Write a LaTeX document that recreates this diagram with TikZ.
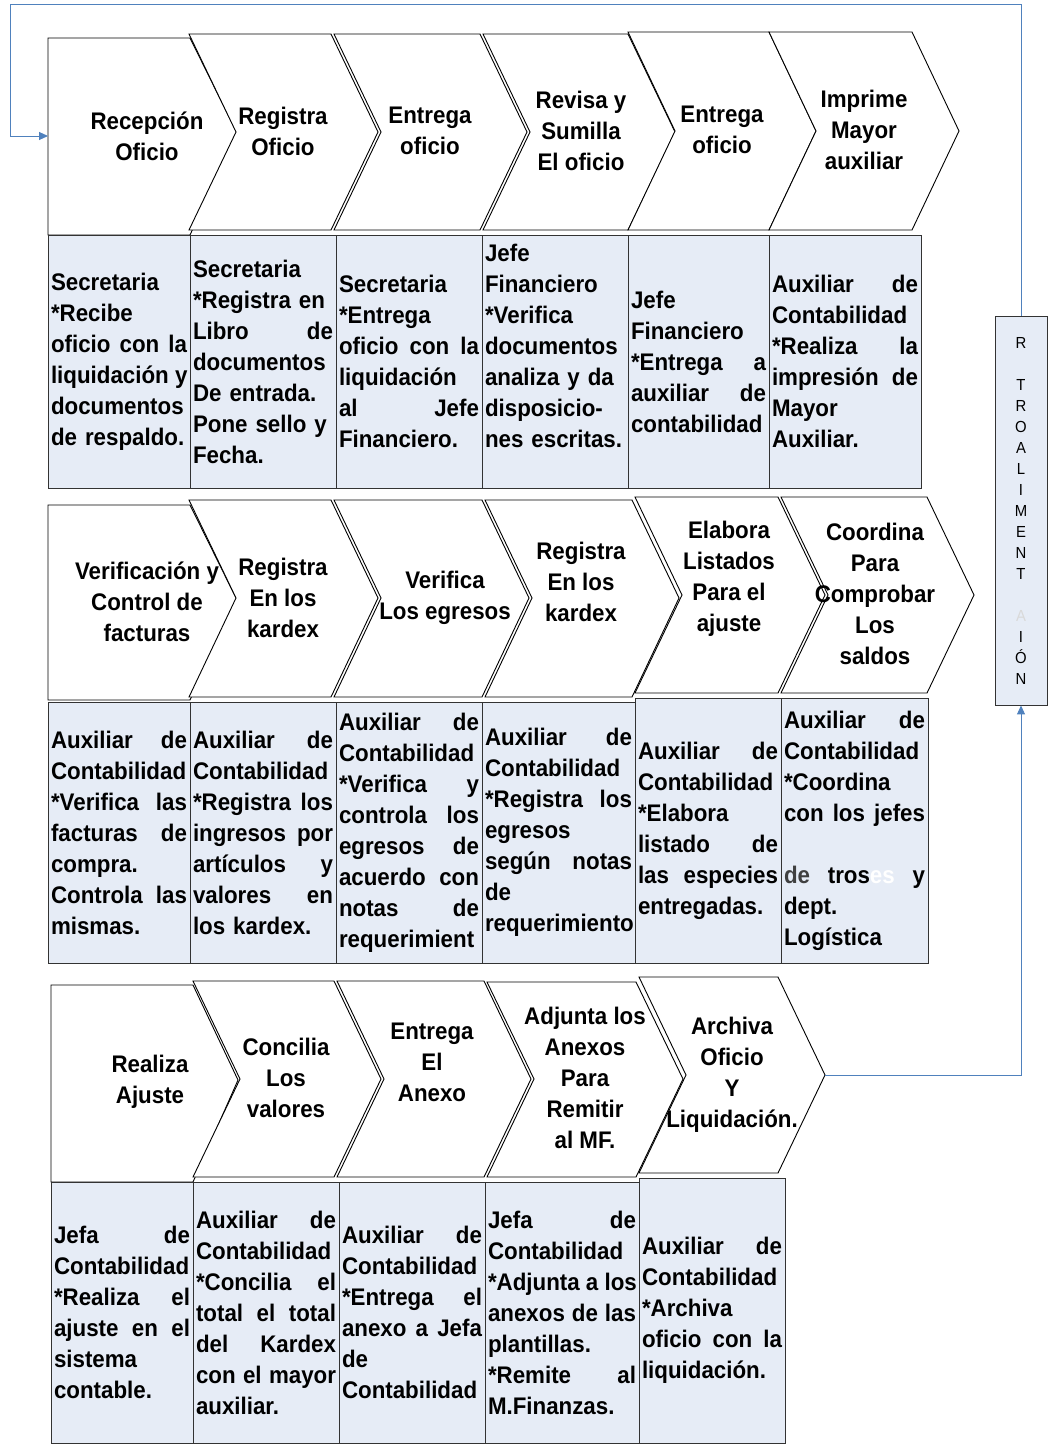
\documentclass[tikz,border=0pt]{standalone}
\usepackage{fontspec}
\setmainfont{Liberation Sans}[FakeStretch=0.93]
\usetikzlibrary{arrows.meta}
\definecolor{fondo}{RGB}{230,236,246}
\definecolor{azul}{RGB}{79,129,189}
\newcommand{\jl}[1]{{\spaceskip=\fontdimen2\font plus 1fil\xspaceskip=\spaceskip\makebox[\hsize][s]{#1}}}

\begin{document}
\begin{tikzpicture}[x=1pt,y=-1pt,
  chev/.style={draw=black,fill=white,line width=0.9pt},
  tit/.style={align=center,inner sep=0pt,font=\bfseries\fontsize{24}{31}\selectfont},
  celda/.style={draw=black!80,fill=fondo,line width=0.9pt,align=left,inner xsep=3pt,inner ysep=0pt,font=\bfseries\fontsize{24}{31}\selectfont},
  flecha/.style={draw=azul,line width=1pt,-{Triangle[length=9pt,width=8pt]}}]
  \useasboundingbox (0,0) rectangle (1047,1445);
  % Fila 1
  \draw[chev] (48,38) -- (190,38) -- (237,133) -- (190,235) -- (48,235) -- cycle;
  \draw[chev] (189,34) -- (331,34) -- (378,132) -- (331,230) -- (189,230) -- (236,132) -- cycle;
  \draw[chev] (334,34) -- (480,34) -- (527,132) -- (480,230) -- (334,230) -- (381,132) -- cycle;
  \draw[chev] (483,34) -- (628,34) -- (675,132) -- (628,230) -- (483,230) -- (530,132) -- cycle;
  \draw[chev] (628,32) -- (769,32) -- (816,131) -- (769,230) -- (628,230) -- (675,131) -- cycle;
  \draw[chev] (769,32) -- (912,32) -- (959,131) -- (912,230) -- (769,230) -- (816,131) -- cycle;
  \coordinate (e11) at (48,136);
  \node[tit] (t11) at (147,136) {Recepción\\Oficio};
  \node[tit] (t12) at (283,131) {Registra\\Oficio};
  \node[tit] (t13) at (430,131) {Entrega\\oficio};
  \node[tit] (t14) at (581,131) {Revisa y\\Sumilla\\El oficio};
  \node[tit] (t15) at (722,130) {Entrega\\oficio};
  \node[tit] (t16) at (864,130) {Imprime\\Mayor\\auxiliar};
  \node[celda,minimum width=142pt,minimum height=253pt,text width=136pt] (d11) at (119,361.5)
    {Secretaria\\{}*Recibe\\\jl{oficio con la}\\\jl{liquidación y}\\documentos\\de respaldo.};
  \node[celda,minimum width=146pt,minimum height=253pt,text width=140pt] (d12) at (263,361.5)
    {Secretaria\\{}*Registra en\\\jl{Libro de}\\documentos\\De entrada.\\Pone sello y\\Fecha.};
  \node[celda,minimum width=146pt,minimum height=253pt,text width=140pt] (d13) at (409,361.5)
    {Secretaria\\{}*Entrega\\\jl{oficio con la}\\liquidación\\\jl{al Jefe}\\Financiero.};
  \node[celda,minimum width=146pt,minimum height=253pt,text width=140pt] (d14) at (555,361.5)
    {Jefe\\Financiero\\{}*Verifica\\documentos\\analiza y da\\disposicio-\\nes escritas.\\\mbox{}};
  \node[celda,minimum width=141pt,minimum height=253pt,text width=135pt] (d15) at (698.5,361.5)
    {Jefe\\Financiero\\\jl{*Entrega a}\\\jl{auxiliar de}\\contabilidad};
  \node[celda,minimum width=152pt,minimum height=253pt,text width=146pt] (d16) at (845,361.5)
    {\jl{Auxiliar de}\\Contabilidad\\\jl{*Realiza la}\\\jl{impresión de}\\Mayor\\Auxiliar.};
  % Fila 2
  \draw[chev] (48,505) -- (190,505) -- (237,600) -- (190,700) -- (48,700) -- cycle;
  \draw[chev] (189,500) -- (331,500) -- (378,598) -- (331,697) -- (189,697) -- (236,598) -- cycle;
  \draw[chev] (334,500) -- (482,500) -- (529,598) -- (482,697) -- (334,697) -- (381,598) -- cycle;
  \draw[chev] (485,500) -- (632,500) -- (679,598) -- (632,697) -- (485,697) -- (532,598) -- cycle;
  \draw[chev] (635,497) -- (778,497) -- (825,595) -- (778,693) -- (635,693) -- (682,595) -- cycle;
  \draw[chev] (781,497) -- (927,497) -- (974,595) -- (927,693) -- (781,693) -- (828,595) -- cycle;
  \node[tit] (t21) at (147,602) {Verificación y\\Control de\\facturas};
  \node[tit] (t22) at (283,598) {Registra\\En los\\kardex};
  \node[tit] (t23) at (445,598) {Verifica\\Los egresos};
  \node[tit] (t24) at (581,582) {Registra\\En los\\kardex};
  \node[tit] (t25) at (729,579) {Elabora\\Listados\\Para el\\ajuste};
  \node[tit] (t26) at (875,594) {Coordina\\Para\\Comprobar\\Los\\saldos};
  \node[celda,minimum width=142pt,minimum height=261pt,text width=136pt] (d21) at (119,832.5)
    {\jl{Auxiliar de}\\Contabilidad\\\jl{*Verifica las}\\\jl{facturas de}\\compra.\\\jl{Controla las}\\mismas.};
  \node[celda,minimum width=146pt,minimum height=261pt,text width=140pt] (d22) at (263,832.5)
    {\jl{Auxiliar de}\\Contabilidad\\\jl{*Registra los}\\\jl{ingresos por}\\\jl{artículos y}\\\jl{valores en}\\los kardex.};
  \node[celda,minimum width=146pt,minimum height=261pt,text width=140pt] (d23) at (409,832.5)
    {\jl{Auxiliar de}\\Contabilidad\\\jl{*Verifica y}\\\jl{controla los}\\\jl{egresos de}\\\jl{acuerdo con}\\\jl{notas de}\\requerimient};
  \node[celda,minimum width=153pt,minimum height=261pt,text width=147pt] (d24) at (558.5,832.5)
    {\jl{Auxiliar de}\\Contabilidad\\\jl{*Registra los}\\egresos\\\jl{según notas}\\de\\requerimiento};
  \node[celda,minimum width=146pt,minimum height=265pt,text width=140pt] (d25) at (708,830.5)
    {\jl{Auxiliar de}\\Contabilidad\\{}*Elabora\\\jl{listado de}\\\jl{las especies}\\entregadas.};
  \node[celda,minimum width=147pt,minimum height=265pt,text width=141pt] (d26) at (854.5,830.5)
    {\jl{Auxiliar de}\\Contabilidad\\{}*Coordina\\\jl{con los jefes}\\\mbox{}\\\jl{\textcolor{darkgray}{de} tros\textcolor{white}{es} y}\\dept.\\Logística};
  % Fila 3
  \draw[chev] (51,985) -- (193,985) -- (238,1080) -- (193,1182) -- (51,1182) -- cycle;
  \draw[chev] (193,981) -- (334,981) -- (381,1079) -- (334,1177) -- (193,1177) -- (240,1079) -- cycle;
  \draw[chev] (337,981) -- (484,981) -- (531,1079) -- (484,1177) -- (337,1177) -- (384,1079) -- cycle;
  \draw[chev] (487,982) -- (636,982) -- (683,1079) -- (636,1177) -- (487,1177) -- (534,1079) -- cycle;
  \draw[chev] (639,977) -- (778,977) -- (825,1075) -- (778,1173) -- (639,1173) -- (686,1075) -- cycle;
  \coordinate (p35) at (825,1075);
  \node[tit] (t31) at (150,1082) {Realiza\\Ajuste};
  \node[tit] (t32) at (286,1078) {Concilia\\Los\\valores};
  \node[tit] (t33) at (432,1062) {Entrega\\El\\Anexo};
  \node[tit] (t34) at (585,1078) {Adjunta los\\Anexos\\Para\\Remitir\\al MF.};
  \node[tit] (t35) at (732,1075) {Archiva\\Oficio\\Y\\Liquidación.};
  \node[celda,minimum width=142pt,minimum height=261pt,text width=136pt] (d31) at (122,1312.5)
    {\jl{Jefa de}\\Contabilidad\\\jl{*Realiza el}\\\jl{ajuste en el}\\sistema\\contable.};
  \node[celda,minimum width=146pt,minimum height=261pt,text width=140pt] (d32) at (266,1312.5)
    {\jl{Auxiliar de}\\Contabilidad\\\jl{*Concilia el}\\\jl{total el total}\\\jl{del Kardex}\\\jl{con el mayor}\\auxiliar.};
  \node[celda,minimum width=146pt,minimum height=261pt,text width=140pt] (d33) at (412,1312.5)
    {\jl{Auxiliar de}\\Contabilidad\\\jl{*Entrega el}\\\jl{anexo a Jefa}\\de\\Contabilidad};
  \node[celda,minimum width=154pt,minimum height=261pt,text width=148pt] (d34) at (562,1312.5)
    {\jl{Jefa de}\\Contabilidad\\\jl{*Adjunta a los}\\\jl{anexos de las}\\plantillas.\\\jl{*Remite al}\\M.Finanzas.};
  \node[celda,minimum width=146pt,minimum height=265pt,text width=140pt] (d35) at (712,1310.5)
    {\jl{Auxiliar de}\\Contabilidad\\{}*Archiva\\\jl{oficio con la}\\liquidación.};
  % Retroalimentacion
  \node[draw=black!80,fill=fondo,line width=0.9pt,minimum width=52pt,minimum height=389pt,
    align=center,inner sep=0pt,font=\fontsize{16}{21}\selectfont] (ret) at (1021,510.5)
    {R\\\mbox{}\\T\\R\\O\\A\\L\\I\\M\\E\\N\\T\\\mbox{}\\\textcolor{black!15}{A}\\I\\Ó\\N};
  \coordinate (esq) at (10,5);
  \draw[flecha] (p35) -| (ret.south);
  \draw[flecha] (ret.north) |- (esq) |- (e11);
\end{tikzpicture}
\end{document}
